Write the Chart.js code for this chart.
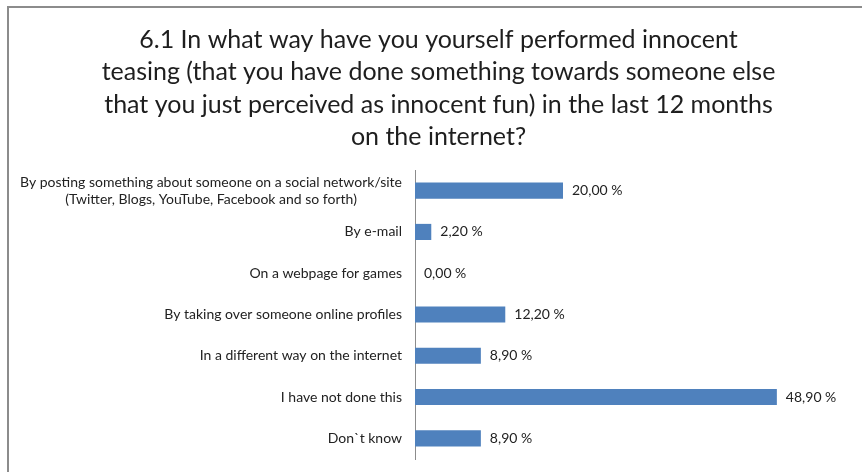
<!DOCTYPE html>
<html>
<head>
<meta charset="utf-8">
<script src="https://cdn.jsdelivr.net/npm/chart.js@4/dist/chart.umd.min.js"></script>
<style>
    body { margin: 0; background: #fff; }
    #wrap { position: relative; width: 862px; height: 472px; }
    #frame {
        position: absolute; left: 7px; top: 6px; right: 0; bottom: 0;
        border-left: 2px solid #8c8c8c; border-top: 2px solid #8c8c8c;
        pointer-events: none;
    }
</style>
</head>
<body>
<div id="wrap">
    <canvas id="teasingChart" width="862" height="472"></canvas>
    <div id="frame"></div>
</div>
<script>
const titleLines = [
    "6.1 In what way have you yourself performed innocent",
    "teasing (that you have done something towards someone else",
    "that you just perceived as innocent fun) in the last 12 months",
    "on the internet?"
];
const categories = [
    ["By posting something about someone on a social network/site", "(Twitter, Blogs, YouTube, Facebook and so forth)"],
    "By e-mail",
    "On a webpage for games",
    "By taking over someone online profiles",
    "In a different way on the internet",
    "I have not done this",
    "Don`t know"
];
const percentages = [20.0, 2.2, 0.0, 12.2, 8.9, 48.9, 8.9];

const FONT = "Lato, 'Open Sans', sans-serif";

function formatPct(v) {
    return v.toFixed(2).replace(".", ",") + " %";
}

// category names next to the axis; wrapped names are centred on each other
const categoryLabels = {
    id: "categoryLabels",
    afterDraw(chart) {
        const ctx = chart.ctx;
        const yScale = chart.scales.y;
        const right = chart.chartArea.left - 13;
        const lineH = 17;
        ctx.save();
        ctx.font = "14px " + FONT;
        ctx.fillStyle = "#222";
        ctx.textBaseline = "middle";
        categories.forEach((cat, i) => {
            const lines = Array.isArray(cat) ? cat : [cat];
            const y = yScale.getPixelForTick(i);
            const widest = Math.max(...lines.map(l => ctx.measureText(l).width));
            const startY = y - (lines.length - 1) * lineH / 2;
            lines.forEach((line, j) => {
                if (lines.length > 1) {
                    ctx.textAlign = "center";
                    ctx.fillText(line, right - widest / 2, startY + j * lineH);
                } else {
                    ctx.textAlign = "right";
                    ctx.fillText(line, right, startY);
                }
            });
        });
        ctx.restore();
    }
};

// percentage text just past the end of every bar
const valueLabels = {
    id: "valueLabels",
    afterDatasetsDraw(chart) {
        const ctx = chart.ctx;
        const meta = chart.getDatasetMeta(0);
        ctx.save();
        ctx.font = "14px " + FONT;
        ctx.fillStyle = "#222";
        ctx.textAlign = "left";
        ctx.textBaseline = "middle";
        meta.data.forEach((bar, i) => {
            ctx.fillText(formatPct(percentages[i]), bar.x + 9, bar.y);
        });
        ctx.restore();
    }
};

const ctx = document.getElementById("teasingChart").getContext("2d");
new Chart(ctx, {
    type: "bar",
    data: {
        labels: categories,
        datasets: [{
            data: percentages,
            backgroundColor: "#4f81bd",
            borderWidth: 0,
            categoryPercentage: 1,
            barPercentage: 0.39
        }]
    },
    options: {
        indexAxis: "y",
        responsive: false,
        animation: false,
        layout: { padding: { left: 18, right: 3, top: 0, bottom: 13 } },
        plugins: {
            legend: { display: false },
            tooltip: { enabled: false },
            title: {
                display: true,
                text: titleLines,
                color: "#1e1e1e",
                font: { family: FONT, size: 25, weight: "normal", lineHeight: 1.29 },
                padding: { top: 24, bottom: 17 }
            }
        },
        scales: {
            x: { display: false, min: 0, max: 60 },
            y: {
                ticks: { display: false },
                grid: { display: false },
                border: { display: true, color: "#8c8c8c", width: 1 },
                afterFit(scale) { scale.width = 397; }
            }
        }
    },
    plugins: [categoryLabels, valueLabels]
});
</script>
</body>
</html>
